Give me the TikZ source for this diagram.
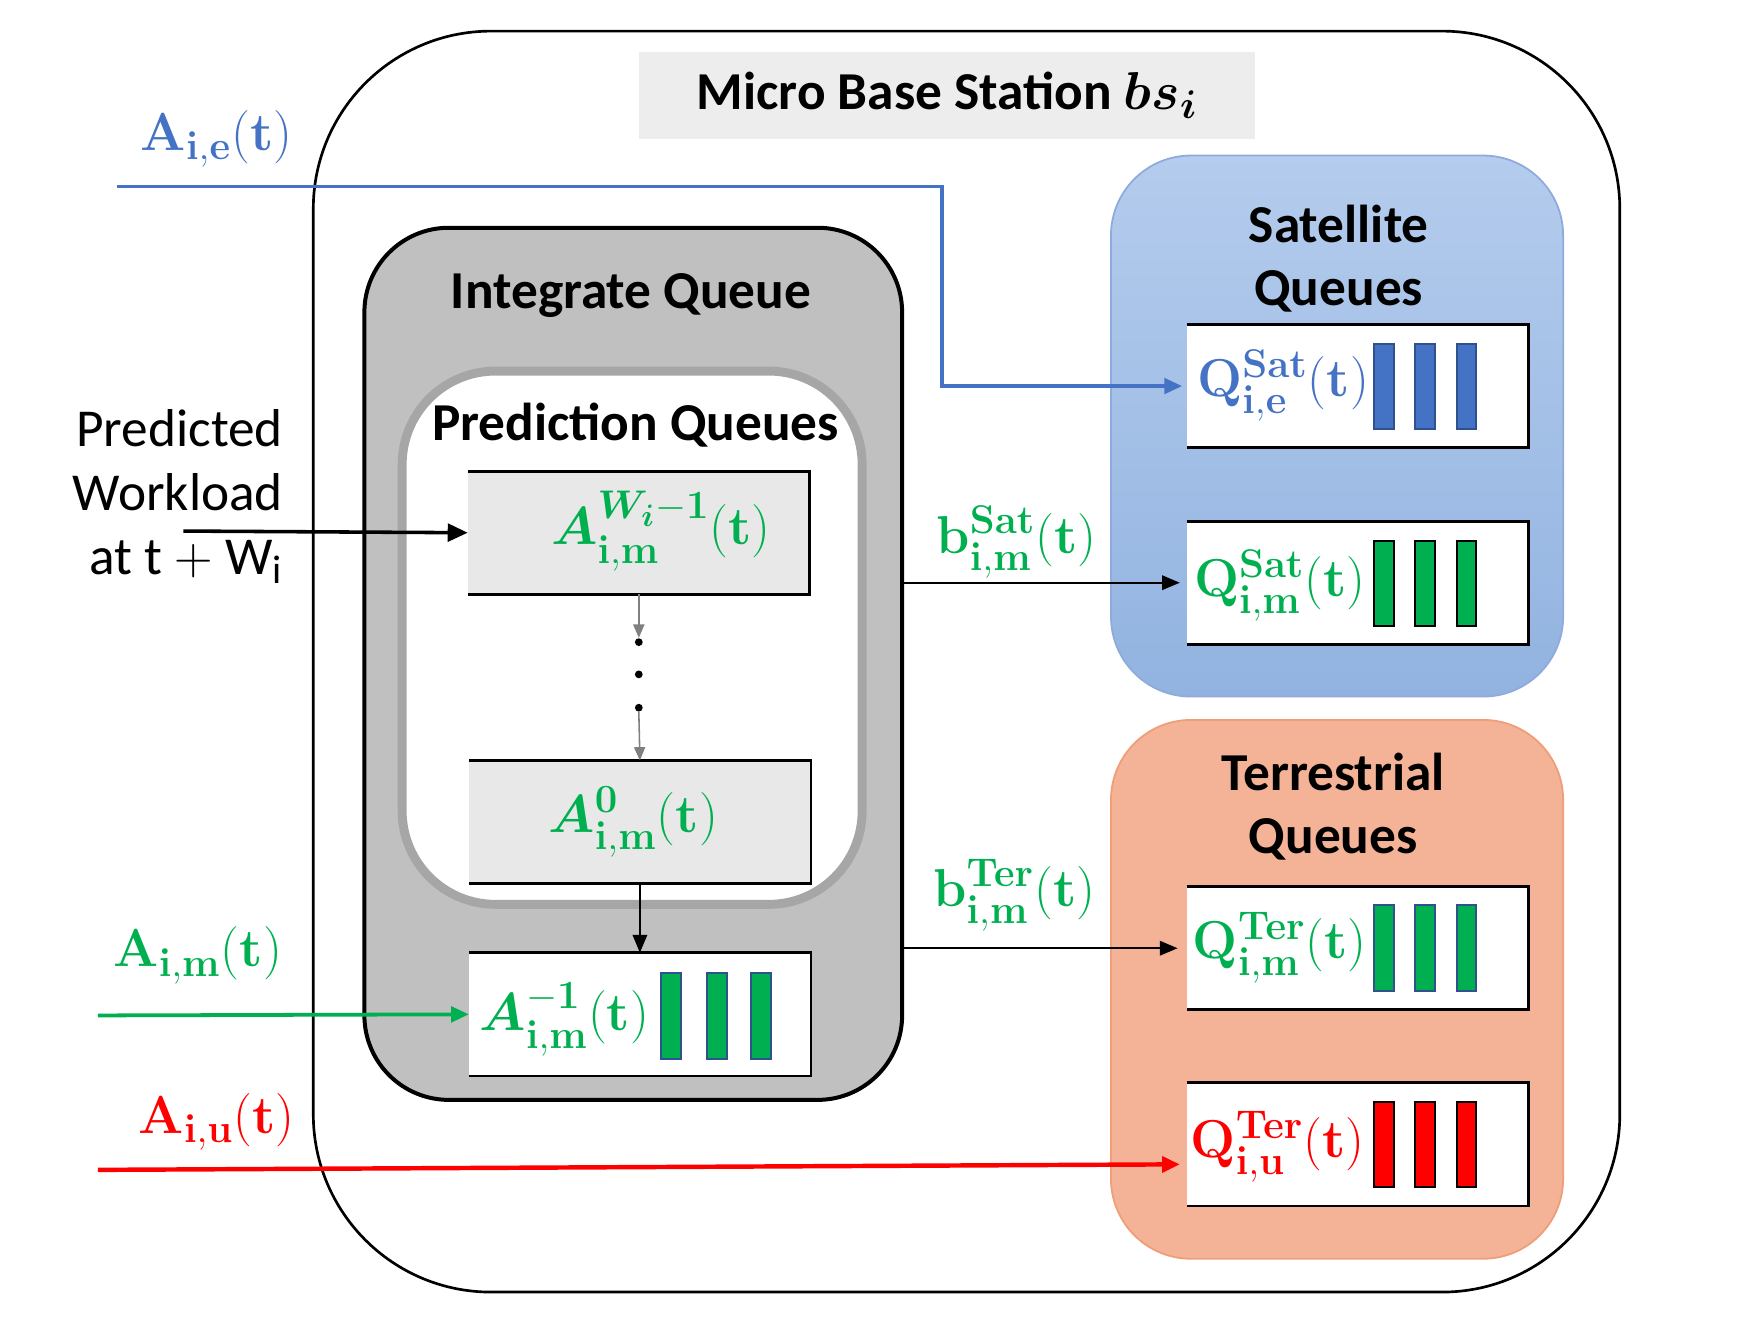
\RequirePackage{fix-cm}
\documentclass[tikz,border=0pt]{standalone}
\usepackage{amsmath}
\usepackage{bm}
\usepackage[no-math]{fontspec}
\setmainfont{Carlito}
\usetikzlibrary{arrows.meta}
\DeclareMathSizes{24}{24}{18}{14}
\definecolor{cblue}{HTML}{4472C4}
\definecolor{cgreen}{HTML}{00B050}
\definecolor{cred}{HTML}{FF0000}
\definecolor{barblue}{HTML}{2F528F}
\definecolor{satA}{HTML}{B4CCED}
\definecolor{satB}{HTML}{92B3E0}
\definecolor{satline}{HTML}{8FAADC}
\definecolor{terfill}{HTML}{F4B396}
\definecolor{terline}{HTML}{EE9E78}
\definecolor{intfill}{HTML}{C0C0C0}
\definecolor{predline}{HTML}{A6A6A6}
\definecolor{boxgray}{HTML}{E8E8E8}
\definecolor{titlegray}{HTML}{EDEDED}
\tikzset{
  ttl/.style={font=\fontsize{24}{28.5}\selectfont\bfseries, align=center, inner sep=0pt},
  lab/.style={font=\fontsize{24}{28}\selectfont, inner sep=0pt},
  qbox/.style={minimum width=154pt, minimum height=55.5pt, inner sep=0pt, outer sep=0pt},
  boxline/.style={line width=1.3pt, black},
  bar/.style={minimum width=9pt, minimum height=38.5pt, inner sep=0pt, outer sep=0pt, line width=0.9pt},
  rbox/.style={inner sep=0pt, outer sep=0pt},
  thinarrow/.style={line width=0.9pt, -{Triangle[length=8pt,width=6.5pt]}},
}
\begin{document}
\begin{tikzpicture}[x=0.5pt,y=-0.5pt]
\useasboundingbox (0,0) rectangle (1568,1190);

% outer base station
\node[rbox, draw, line width=1.2pt, rounded corners=80pt, minimum width=588pt, minimum height=567.5pt] (bs) at (870,595.5) {};
\node[ttl, fill=titlegray, minimum width=277.5pt, minimum height=39pt] (title) at (852.5,86) {Micro Base Station $\bm{bs_i}$};

% integrate queue
\node[rbox, draw, fill=intfill, line width=1.8pt, rounded corners=38pt, minimum width=242pt, minimum height=392.5pt] (integ) at (570,597.5) {};
\node[ttl] (integT) at (568,266) {Integrate Queue};

% prediction queues
\node[rbox, draw=predline, fill=white, line width=4pt, rounded corners=42pt, minimum width=207pt, minimum height=240pt] (pred) at (569,574) {};
\node[ttl] (predT) at (572,383) {Prediction Queues};

% prediction boxes
\node[qbox, fill=boxgray] (Aw) at (575,479.5) {};
\node[qbox, fill=boxgray] (A0) at (576,740) {};
\node[qbox, fill=white] (Am) at (576,913) {};
\foreach \b in {Aw,A0,Am}{
  \draw[boxline] (\b.north west) -- (\b.north east) -- (\b.south east) -- (\b.south west);
}
\node[lab, text=cgreen] (AwT) at (595,478) {$\bm{A}^{\bm{W_i}\mathbf{-1}}_{\mathbf{i,m}}(\mathbf{t})$};
\node[lab, text=cgreen] (A0T) at (570,740) {$\bm{A}^{\mathbf{0}}_{\mathbf{i,m}}(\mathbf{t})$};
\node[lab, text=cgreen] (AmT) at (508,918) {$\bm{A}^{\mathbf{-1}}_{\mathbf{i,m}}(\mathbf{t})$};
\foreach \x/\n in {604/1,645/2,685/3}{
  \node[bar, fill=cgreen, draw=barblue] (amb\n) at (\x,914.5) {};
}

% dots
\node[circle, fill=black, inner sep=0pt, minimum size=3.5pt] (d1) at (575,578) {};
\node[circle, fill=black, inner sep=0pt, minimum size=3.5pt] (d2) at (575,607) {};
\node[circle, fill=black, inner sep=0pt, minimum size=3.5pt] (d3) at (575,637) {};

% satellite queues
\node[rbox, draw=satline, line width=0.8pt, top color=satA, bottom color=satB, rounded corners=36pt, minimum width=203.5pt, minimum height=243.5pt] (sat) at (1203.5,383.5) {};
\node[ttl] (satT) at (1205,233) {Satellite\\Queues};
\node[qbox, fill=white] (Qie) at (1222,347.5) {};
\node[qbox, fill=white] (Qsm) at (1222,524.5) {};

% terrestrial queues
\node[rbox, draw=terline, line width=0.8pt, fill=terfill, rounded corners=36pt, minimum width=203.5pt, minimum height=242.5pt] (ter) at (1203.5,890.5) {};
\node[ttl] (terT) at (1200,726) {Terrestrial\\Queues};
\node[qbox, fill=white] (Qtm) at (1222,853.5) {};
\node[qbox, fill=white] (Qtu) at (1222,1030) {};

\foreach \b in {Qie,Qsm,Qtm,Qtu}{
  \draw[boxline] (\b.north west) -- (\b.north east) -- (\b.south east) -- (\b.south west);
}
\node[lab, text=cblue] (QieT) at (1155,347) {$\mathbf{Q}^{\mathbf{Sat}}_{\mathbf{i,e}}(\mathbf{t})$};
\node[lab, text=cgreen] (QsmT) at (1152,527) {$\mathbf{Q}^{\mathbf{Sat}}_{\mathbf{i,m}}(\mathbf{t})$};
\node[lab, text=cgreen] (QtmT) at (1152,853) {$\mathbf{Q}^{\mathbf{Ter}}_{\mathbf{i,m}}(\mathbf{t})$};
\node[lab, text=cred] (QtuT) at (1150,1032) {$\mathbf{Q}^{\mathbf{Ter}}_{\mathbf{i,u}}(\mathbf{t})$};
\foreach \x/\n in {1246/1,1283/2,1320/3}{
  \node[bar, fill=cblue, draw=barblue] (qieb\n) at (\x,348) {};
  \node[bar, fill=cgreen, draw=black] (qsmb\n) at (\x,525) {};
  \node[bar, fill=cgreen, draw=barblue] (qtmb\n) at (\x,853.5) {};
  \node[bar, fill=cred, draw=black] (qtub\n) at (\x,1030) {};
}

% outside labels
\node[lab, text=cblue] (AieL) at (195,125) {$\mathbf{A}_{\mathbf{i,e}}(\mathbf{t})$};
\node[lab, text=cgreen] (AimL) at (178,860) {$\mathbf{A}_{\mathbf{i,m}}(\mathbf{t})$};
\node[lab, text=cred] (AiuL) at (195,1010) {$\mathbf{A}_{\mathbf{i,u}}(\mathbf{t})$};
\node[font=\fontsize{24}{28.8}\selectfont, align=right, anchor=east, inner sep=0pt] (pw) at (255,447) {Predicted\\Workload\\at t $+$ W\textsubscript{i}};
\node[lab, text=cgreen] (bsL) at (915,488) {$\mathbf{b}^{\mathbf{Sat}}_{\mathbf{i,m}}(\mathbf{t})$};
\node[lab, text=cgreen] (btL) at (913,806) {$\mathbf{b}^{\mathbf{Ter}}_{\mathbf{i,m}}(\mathbf{t})$};

% connector endpoints
\coordinate (aieS) at (105,168);
\coordinate (aieK) at (848,168);
\coordinate (pwS) at (165,478);
\coordinate (aimS) at (88,914);
\coordinate (aiuS) at (88,1053);

% connectors
\draw[cblue, line width=1.5pt, -{Triangle[length=8pt,width=7pt]}, shorten >=2pt] (aieS) -- (aieK) |- (Qie.west);
\draw[black, line width=1.6pt, -{Triangle[length=9pt,width=8pt]}] (pwS) -- (Aw.west);
\draw[cgreen, line width=1.7pt, -{Triangle[length=8pt,width=7pt]}] (aimS) -- (Am.west);
\draw[cred, line width=2pt, -{Triangle[length=8pt,width=7pt]}, shorten >=3pt] (aiuS) -- ([yshift=-9pt]Qtu.west);
\draw[gray, line width=0.7pt, -{Triangle[length=6pt,width=5pt]}] (Aw.south) -- (d1.north);
\draw[gray, line width=0.7pt, -{Triangle[length=6pt,width=5pt]}] (d3.south) -- (A0.north);
\draw[thinarrow] (A0.south) -- (Am.north);
\draw[thinarrow, shorten >=3pt] (Qsm.west -| integ.east) -- (Qsm.west);
\draw[thinarrow, shorten >=4pt] (Qtm.west -| integ.east) -- (Qtm.west);
\end{tikzpicture}
\end{document}
